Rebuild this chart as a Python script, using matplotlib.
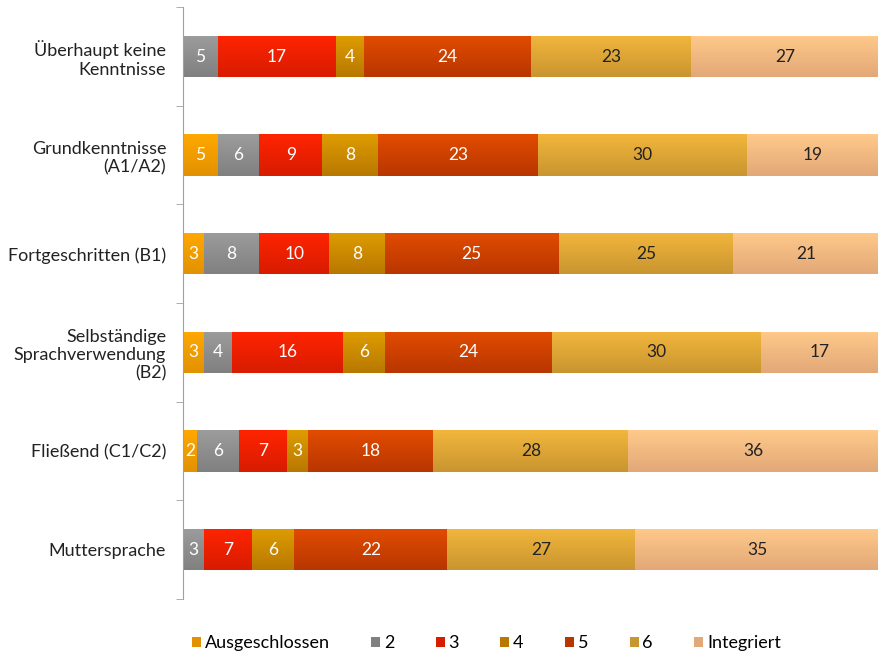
import matplotlib
matplotlib.use('Agg')
import matplotlib.pyplot as plt
import numpy as np
from matplotlib.colors import LinearSegmentedColormap
from matplotlib.patches import Patch

plt.rcParams['font.family'] = ['Lato', 'DejaVu Sans']

categories = ['Überhaupt keine\nKenntnisse', 'Grundkenntnisse\n(A1/A2)',
              'Fortgeschritten (B1)', 'Selbständige\nSprachverwendung\n(B2)',
              'Fließend (C1/C2)', 'Muttersprache']
series = ['Ausgeschlossen', '2', '3', '4', '5', '6', 'Integriert']

ausgeschlossen = [0, 5, 3, 3, 2, 0]
s2 = [5, 6, 8, 4, 6, 3]
s3 = [17, 9, 10, 16, 7, 7]
s4 = [4, 8, 8, 6, 3, 6]
s5 = [24, 23, 25, 24, 18, 22]
s6 = [23, 30, 25, 30, 28, 27]
integriert = [27, 19, 21, 17, 36, 35]
values = [ausgeschlossen, s2, s3, s4, s5, s6, integriert]

# (top colour, bottom colour) for the vertical gradient
colors = [('#FFA800', '#E29200'), ('#9C9C9C', '#808080'), ('#FF2400', '#D81C00'),
          ('#DE9C00', '#B87800'), ('#E24C00', '#B83600'), ('#F2B63C', '#C99530'),
          ('#FFC98A', '#E2A878')]
text_colors = ['white'] * 5 + ['#222222'] * 2

fig = plt.figure(figsize=(8.79, 6.55), dpi=100)
ax = fig.add_axes([0.208, 0.0855, 0.792, 0.9035])

y = np.arange(len(categories))
left = np.zeros(len(categories))
grad = np.linspace(0, 1, 64).reshape(-1, 1)

for vals, (ctop, cbot), tc in zip(values, colors, text_colors):
    vals = np.array(vals, dtype=float)
    bars = ax.barh(y, vals, left=left, height=0.42, color=cbot, edgecolor='none')
    cmap = LinearSegmentedColormap.from_list('g', [ctop, cbot])
    for b, v in zip(bars, vals):
        if v <= 0:
            continue
        x0, y0 = b.get_x(), b.get_y()
        w, h = b.get_width(), b.get_height()
        im = ax.imshow(grad, cmap=cmap, aspect='auto', extent=(x0, x0 + w, y0 + h, y0),
                       interpolation='bilinear', zorder=2)
        im.set_clip_path(b)
        ax.text(x0 + w / 2, y0 + h / 2, f'{int(v)}', ha='center', va='center',
                color=tc, fontsize=12.5, zorder=3)
    left += vals

ax.set_xlim(0, 100)
ax.set_ylim(len(categories) - 0.5, -0.5)
ax.set_yticks(y)
ax.set_yticklabels(categories, fontsize=13, color='#222222', linespacing=1.2)
ax.tick_params(axis='y', which='major', length=0, pad=12)
ax.set_yticks(np.arange(-0.5, len(categories), 1), minor=True)
ax.tick_params(axis='y', which='minor', length=5, color='#A0A0A0', direction='out')
ax.set_xticks([])
for s in ['top', 'right', 'bottom']:
    ax.spines[s].set_visible(False)
ax.spines['left'].set_color('#A0A0A0')

handles = [Patch(facecolor=c[1], edgecolor='none') for c in colors]
fig.legend(handles, series, loc='center left', bbox_to_anchor=(0.2, 0.018), ncol=7,
           frameon=False, fontsize=13, handlelength=0.5, handleheight=0.5,
           handletextpad=0.2, columnspacing=2.3)

fig.savefig('out.png', dpi=100)
